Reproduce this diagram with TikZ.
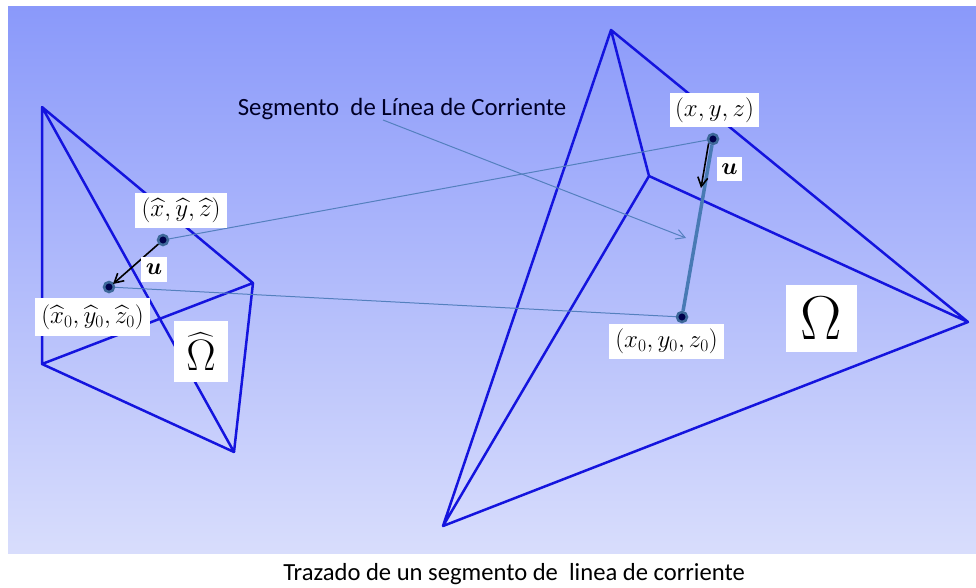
\documentclass[tikz,border=0pt]{standalone}
\usepackage{fix-cm}
\usepackage{amsmath}
\usepackage{fontspec}
\newfontfamily\capfont{Carlito}
\usetikzlibrary{arrows.meta}
\definecolor{bgtop}{RGB}{138,153,250}
\definecolor{bgbot}{RGB}{216,221,252}
\definecolor{meshblue}{RGB}{20,20,222}
\definecolor{thinblue}{RGB}{84,128,190}
\definecolor{segblue}{RGB}{72,122,180}
\tikzset{
  mesh/.style = {draw = meshblue, line width = 2.5pt, line join = round},
  thinline/.style = {draw = thinblue, line width = 1pt},
  lbl/.style = {fill = white, inner sep = 0pt, align = center},
  pnt/.style = {circle, fill = black!70!blue, draw = segblue!85!black, line width = 2.5pt, minimum size = 10pt, inner sep = 0pt},
  vec/.style = {-{Straight Barb[length = 9pt, width = 10pt]}, line width = 1.6pt, black}
}
\begin{document}
\begin{tikzpicture}[x = 1pt, y = -1pt]
\useasboundingbox (0,0) rectangle (976,587);
\shade[top color = bgtop, bottom color = bgbot] (8,6) rectangle (976,553);
\coordinate (a1) at (42,107);
\coordinate (a2) at (42,364);
\coordinate (a3) at (253,283);
\coordinate (a4) at (234,452);
\coordinate (b1) at (611,30);
\coordinate (b2) at (649,176);
\coordinate (b3) at (968,322);
\coordinate (b4) at (443,526);
\coordinate (tipa) at (113,284);
\coordinate (tipb) at (701,188);
\coordinate (tailc) at (383,120);
\coordinate (tipc) at (686,238);
\draw[mesh] (a1) -- (a2) -- (a3) -- (a1) -- (a4) -- (a2);
\draw[mesh] (a3) -- (a4);
\draw[mesh] (b1) -- (b2) -- (b3) -- (b1) -- (b4) -- (b2);
\draw[mesh] (b3) -- (b4);
\node[pnt] (ph) at (163,240) {};
\node[pnt] (ph0) at (109,287) {};
\node[pnt] (p) at (713,139) {};
\node[pnt] (p0) at (682,317) {};
\draw[thinline] (ph) -- (p);
\draw[thinline] (ph0) -- (p0);
\draw[thinline, -{Straight Barb[length = 9pt, width = 10pt]}] (tailc) -- (tipc);
\draw[draw = segblue, line width = 3.5pt] (p) -- (p0);
\draw[vec] (ph) -- (tipa);
\draw[vec] (p.south west) -- (tipb);
\node[lbl, minimum width = 92pt, minimum height = 35pt] (lh) at (181,210.5) {\fontsize{25}{28}\selectfont $(\widehat{x},\widehat{y},\widehat{z})$};
\node[lbl, minimum width = 115pt, minimum height = 38pt] (lh0) at (92.5,317) {\fontsize{25}{28}\selectfont $(\widehat{x}_0,\widehat{y}_0,\widehat{z}_0)$};
\node[lbl, minimum width = 89pt, minimum height = 34pt] (lp) at (714.5,110) {\fontsize{25}{28}\selectfont $(x,y,z)$};
\node[lbl, minimum width = 115pt, minimum height = 35pt] (lp0) at (666.5,341.5) {\fontsize{25}{28}\selectfont $(x_0,y_0,z_0)$};
\node[lbl, minimum width = 26pt, minimum height = 25pt] (ua) at (154,269.5) {\fontsize{24}{26}\selectfont $\boldsymbol{u}$};
\node[lbl, minimum width = 25pt, minimum height = 24pt] (ub) at (729.5,169) {\fontsize{24}{26}\selectfont $\boldsymbol{u}$};
\node[lbl, minimum width = 54pt, minimum height = 61pt] (om0) at (201,351.5) {\fontsize{44}{48}\selectfont $\widehat{\Omega}$};
\node[lbl, minimum width = 71pt, minimum height = 67pt] (om) at (821.5,318.5) {\fontsize{62}{64}\selectfont $\Omega$};
\node[text = black!85!blue] (seg) at (402,109.5) {\capfont\fontsize{24.8}{28}\selectfont Segmento\ \ de Línea de Corriente};
\node (cap) at (514,574) {\capfont\fontsize{24.6}{28}\selectfont Trazado de un segmento de\ \ linea de corriente};
\end{tikzpicture}
\end{document}
